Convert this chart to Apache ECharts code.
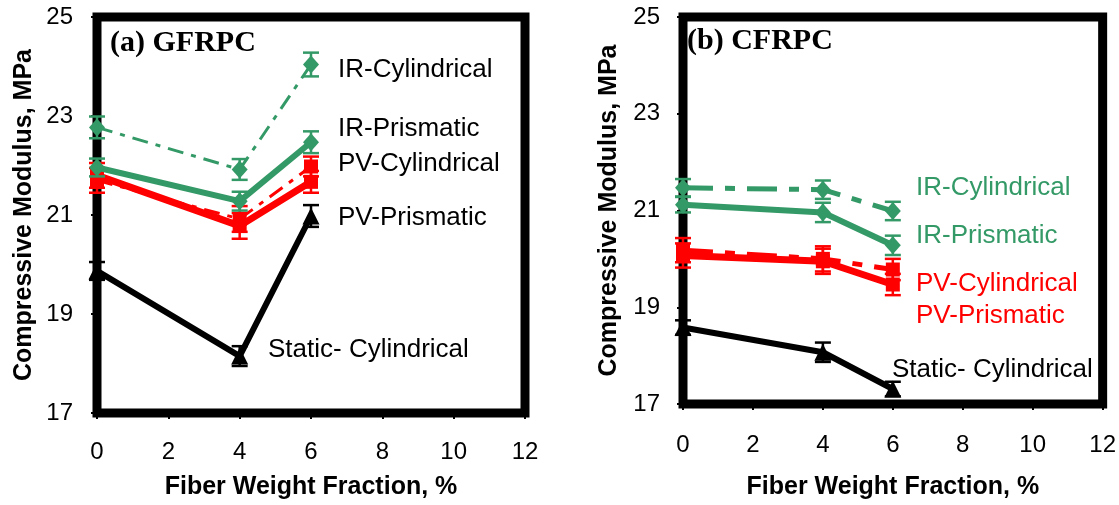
<!DOCTYPE html>
<html>
<head>
<meta charset="utf-8">
<script src="https://cdn.jsdelivr.net/npm/echarts@6/dist/echarts.min.js"></script>
<style>
  html, body { margin: 0; padding: 0; background: #fff; }
  #chart-container { width: 1119px; height: 505px; }
</style>
</head>
<body>
<div id="chart-container"></div>
<script>
// fiber weight fraction (%) where samples were tested
const fiberFraction = [0, 4, 6];
const xTicks = [0, 2, 4, 6, 8, 10, 12];
const yTicks = [17, 19, 21, 23, 25];

// (a) GFRPC
const gfIrCyl = [22.77, 21.92, 24.04];
const gfIrCylErr = [0.22, 0.21, 0.24];
const gfIrPris = [21.96, 21.28, 22.47];
const gfIrPrisErr = [0.18, 0.19, 0.22];
const gfPvCyl = [21.7, 20.92, 21.98];
const gfPvCylErr = [0.25, 0.26, 0.2];
const gfPvPris = [21.8, 20.78, 21.67];
const gfPvPrisErr = [0.25, 0.26, 0.22];
const gfStatic = [19.87, 18.15, 20.98];
const gfStaticErr = [0.18, 0.2, 0.22];

// (b) CFRPC
const cfIrCyl = [21.47, 21.43, 20.99];
const cfIrCylErr = [0.18, 0.19, 0.19];
const cfIrPris = [21.12, 20.96, 20.28];
const cfIrPrisErr = [0.16, 0.2, 0.2];
const cfPvCyl = [20.18, 20.0, 19.78];
const cfPvCylErr = [0.25, 0.26, 0.22];
const cfPvPris = [20.07, 19.95, 19.47];
const cfPvPrisErr = [0.25, 0.26, 0.22];
const cfStatic = [18.58, 18.07, 17.31];
const cfStaticErr = [0.15, 0.2, 0.15];

const GREEN = '#339966';
const RED = '#ff0000';
const BLACK = '#000000';

var chartDom = document.getElementById('chart-container');
var myChart = echarts.init(chartDom);

const pairs = (vals) => fiberFraction.map((x, i) => [x, vals[i]]);
const bars = (vals, err) => fiberFraction.map((x, i) => [x, vals[i] - err[i], vals[i] + err[i]]);

const lineSeries = (idx, name, vals, color, width, type, symbol, size, z) => ({
    name: name,
    type: 'line',
    xAxisIndex: idx,
    yAxisIndex: idx,
    data: pairs(vals),
    symbol: symbol,
    symbolSize: size,
    showSymbol: true,
    z: z,
    lineStyle: { color: color, width: width, type: type },
    itemStyle: { color: color, borderWidth: 0 },
    emphasis: { disabled: true }
});

const errorSeries = (idx, vals, err, color, z) => ({
    type: 'custom',
    xAxisIndex: idx,
    yAxisIndex: idx,
    data: bars(vals, err),
    z: z,
    encode: { x: 0, y: [1, 2] },
    renderItem: function (params, api) {
        const lo = api.coord([api.value(0), api.value(1)]);
        const hi = api.coord([api.value(0), api.value(2)]);
        const w = 8;
        const st = { stroke: color, lineWidth: 2.5 };
        return {
            type: 'group',
            children: [
                { type: 'line', shape: { x1: lo[0], y1: lo[1], x2: hi[0], y2: hi[1] }, style: st },
                { type: 'line', shape: { x1: lo[0] - w, y1: lo[1], x2: lo[0] + w, y2: lo[1] }, style: st },
                { type: 'line', shape: { x1: hi[0] - w, y1: hi[1], x2: hi[0] + w, y2: hi[1] }, style: st }
            ]
        };
    }
});

const xAxisFor = (idx, margin, gap) => ({
    gridIndex: idx,
    type: 'value',
    min: 0,
    max: 12,
    interval: 2,
    name: 'Fiber Weight Fraction, %',
    nameLocation: 'middle',
    nameGap: gap,
    nameTextStyle: { fontFamily: 'Liberation Sans', fontWeight: 'bold', fontSize: 25, color: '#000' },
    axisLine: { show: true, lineStyle: { color: '#000', width: 7 } },
    axisTick: { show: true, inside: false, length: 6, lineStyle: { color: '#000', width: 2 } },
    axisLabel: {
        margin: margin,
        fontFamily: 'Liberation Sans',
        fontSize: 24,
        color: '#000',
        formatter: (v) => xTicks.includes(v) ? String(v) : ''
    },
    splitLine: { show: false }
});

const yAxisFor = (idx, margin, gap) => ({
    gridIndex: idx,
    type: 'value',
    min: yTicks[0],
    max: yTicks[yTicks.length - 1],
    interval: 2,
    name: 'Compressive Modulus, MPa',
    nameLocation: 'middle',
    nameGap: gap,
    nameRotate: 90,
    nameTextStyle: { fontFamily: 'Liberation Sans', fontWeight: 'bold', fontSize: 25, color: '#000' },
    axisLine: { show: true, lineStyle: { color: '#000', width: 7 } },
    axisTick: { show: true, inside: false, length: 6, lineStyle: { color: '#000', width: 2 } },
    axisLabel: {
        margin: margin,
        fontFamily: 'Liberation Sans',
        fontSize: 24,
        color: '#000',
        formatter: (v) => yTicks.includes(v) ? String(v) : ''
    },
    splitLine: { show: false }
});

const label = (text, x, y, color, size, family, weight) => ({
    type: 'text',
    x: x,
    y: y,
    z: 100,
    style: {
        text: text,
        fill: color,
        fontFamily: family || 'Liberation Sans',
        fontSize: size || 26,
        fontWeight: weight || 'normal',
        verticalAlign: 'middle',
        align: 'left'
    }
});

var option = {
    animation: false,
    backgroundColor: '#fff',
    grid: [
        { left: 97, top: 17, width: 428, height: 398, show: true, borderColor: '#000', borderWidth: 9, backgroundColor: 'transparent' },
        { left: 683, top: 17, width: 420, height: 390, show: true, borderColor: '#000', borderWidth: 9, backgroundColor: 'transparent' }
    ],
    xAxis: [xAxisFor(0, 27, 62), xAxisFor(1, 29, 71)],
    yAxis: [yAxisFor(0, 24, 60), yAxisFor(1, 23, 61)],
    series: [
        // (a) GFRPC
        errorSeries(0, gfStatic, gfStaticErr, BLACK, 3),
        lineSeries(0, 'Static- Cylindrical', gfStatic, BLACK, 6, 'solid', 'triangle', 17, 4),
        errorSeries(0, gfPvPris, gfPvPrisErr, RED, 5),
        lineSeries(0, 'PV-Prismatic', gfPvPris, RED, 7, 'solid', 'rect', 14, 6),
        errorSeries(0, gfPvCyl, gfPvCylErr, RED, 5),
        lineSeries(0, 'PV-Cylindrical', gfPvCyl, RED, 3, [16, 8, 5, 8], 'rect', 14, 6),
        errorSeries(0, gfIrPris, gfIrPrisErr, GREEN, 7),
        lineSeries(0, 'IR-Prismatic', gfIrPris, GREEN, 6, 'solid', 'diamond', [16, 18], 8),
        errorSeries(0, gfIrCyl, gfIrCylErr, GREEN, 7),
        lineSeries(0, 'IR-Cylindrical', gfIrCyl, GREEN, 3, [16, 8, 5, 8], 'diamond', [16, 18], 8),
        // (b) CFRPC
        errorSeries(1, cfStatic, cfStaticErr, BLACK, 3),
        lineSeries(1, 'Static- Cylindrical', cfStatic, BLACK, 6, 'solid', 'triangle', 17, 4),
        errorSeries(1, cfPvPris, cfPvPrisErr, RED, 5),
        lineSeries(1, 'PV-Prismatic', cfPvPris, RED, 7, 'solid', 'rect', 14, 6),
        errorSeries(1, cfPvCyl, cfPvCylErr, RED, 5),
        lineSeries(1, 'PV-Cylindrical', cfPvCyl, RED, 5, [30, 12, 10, 12], 'rect', 14, 6),
        errorSeries(1, cfIrPris, cfIrPrisErr, GREEN, 7),
        lineSeries(1, 'IR-Prismatic', cfIrPris, GREEN, 6, 'solid', 'diamond', [16, 18], 8),
        errorSeries(1, cfIrCyl, cfIrCylErr, GREEN, 7),
        lineSeries(1, 'IR-Cylindrical', cfIrCyl, GREEN, 5, [30, 12, 10, 12], 'diamond', [16, 18], 8)
    ],
    graphic: [
        label('(a) GFRPC', 110, 43, '#000', 30, 'Liberation Serif', 'bold'),
        label('IR-Cylindrical', 338, 70, '#000'),
        label('IR-Prismatic', 338, 129, '#000'),
        label('PV-Cylindrical', 338, 164, '#000'),
        label('PV-Prismatic', 338, 218, '#000'),
        label('Static- Cylindrical', 268, 350, '#000'),
        label('(b) CFRPC', 687, 41, '#000', 30, 'Liberation Serif', 'bold'),
        label('IR-Cylindrical', 916, 188, GREEN),
        label('IR-Prismatic', 916, 236, GREEN),
        label('PV-Cylindrical', 916, 284, RED),
        label('PV-Prismatic', 916, 316, RED),
        label('Static- Cylindrical', 892, 370, '#000')
    ]
};

option && myChart.setOption(option);
</script>
</body>
</html>
